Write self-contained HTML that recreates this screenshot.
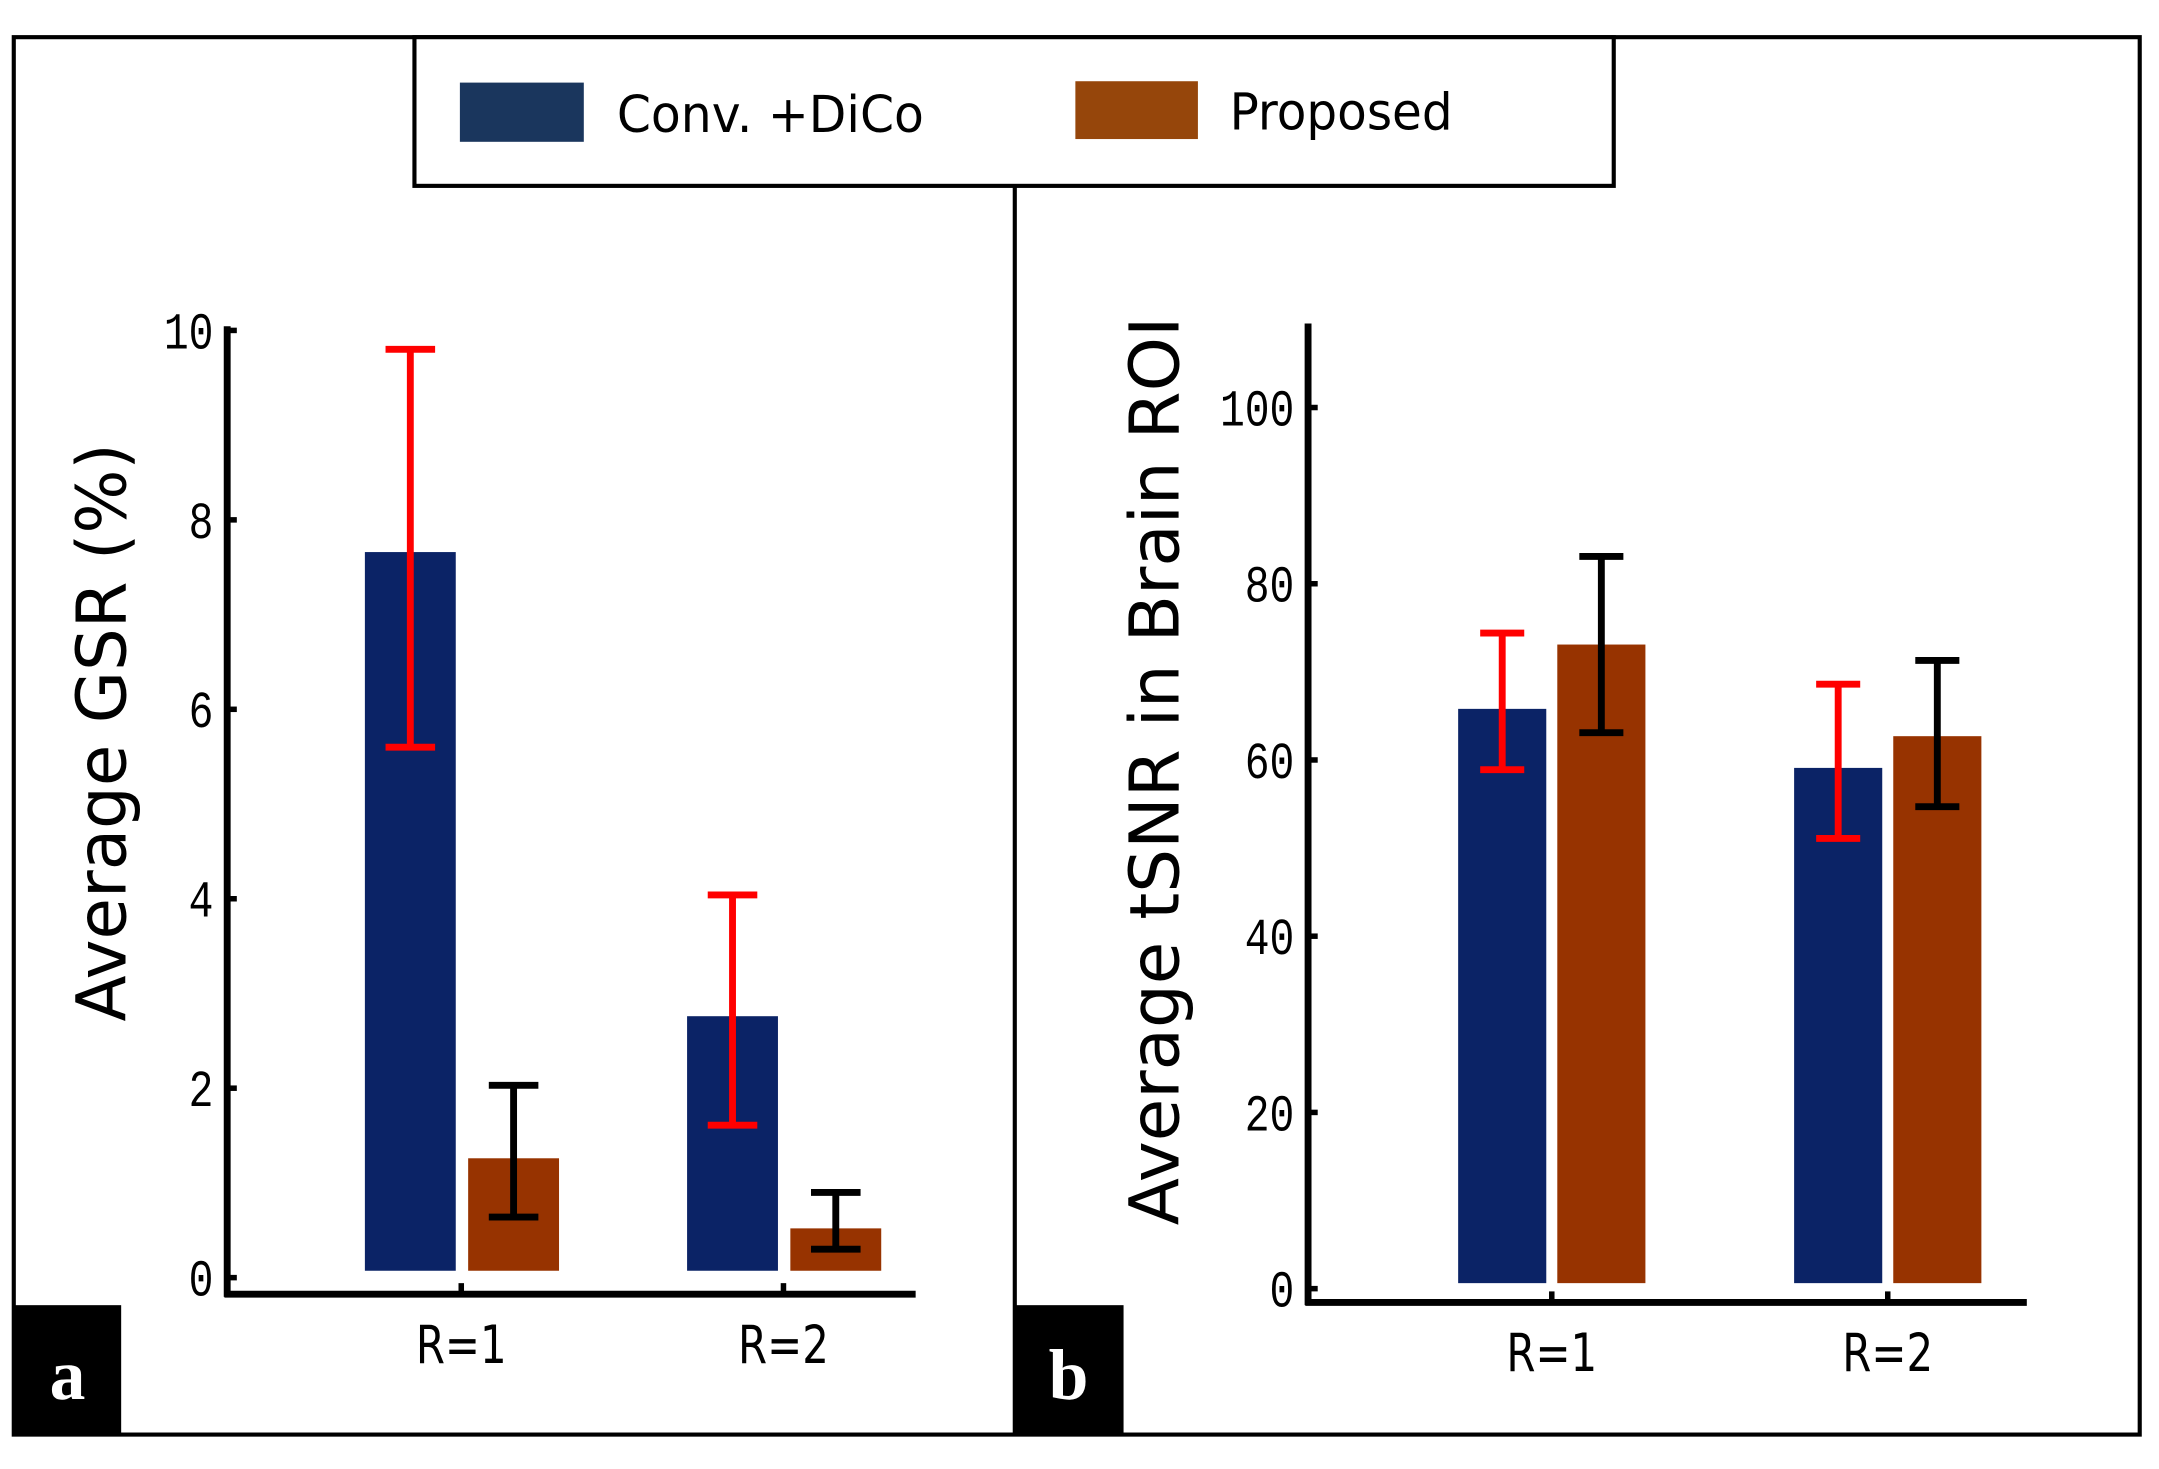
<!DOCTYPE html>
<html><head><meta charset="utf-8"><style>
html,body{margin:0;padding:0;background:#fff;}
svg{display:block;}
.tick{font-family:"Liberation Mono",monospace;font-size:38px;fill:#000;}
.lab{font-family:"DejaVu Sans","Liberation Sans",sans-serif;fill:#000;}
</style></head><body>
<svg id="fig" width="2159" height="1469" viewBox="0 0 1568 1067" preserveAspectRatio="none" xmlns="http://www.w3.org/2000/svg">
<rect x="10" y="27" width="1544" height="1015" fill="none" stroke="#000" stroke-width="3"/>
<line x1="737" y1="135" x2="737" y2="1042" stroke="#000" stroke-width="3"/>
<g>
<rect x="301" y="27" width="871" height="108" fill="#fff" stroke="#000" stroke-width="3"/>
<rect x="334" y="60" width="90" height="43" fill="#1a365d"/>
<text x="448" y="96" class="lab" font-size="37" textLength="223" lengthAdjust="spacingAndGlyphs">Conv. +DiCo</text>
<rect x="781" y="59" width="89" height="42" fill="#96460b"/>
<text x="893" y="94" class="lab" font-size="37" textLength="162" lengthAdjust="spacingAndGlyphs">Proposed</text>
</g>
<rect x="10" y="948" width="78" height="94" fill="#000"/>
<text x="49" y="1016" text-anchor="middle" font-family="Liberation Serif,serif" font-weight="bold" font-size="52" fill="#fff">a</text>
<rect x="737" y="948" width="79" height="94" fill="#000"/>
<text x="776" y="1016" text-anchor="middle" font-family="Liberation Serif,serif" font-weight="bold" font-size="52" fill="#fff">b</text>
<text transform="translate(91,532) rotate(-90)" text-anchor="middle" class="lab" font-size="50" textLength="420" lengthAdjust="spacingAndGlyphs">Average GSR (%)</text>
<text transform="translate(856,560) rotate(-90)" text-anchor="middle" class="lab" font-size="50" textLength="660" lengthAdjust="spacingAndGlyphs">Average tSNR in Brain ROI</text>
<g id="gA"></g><g id="gB"></g>
</svg>
<script>
const categories = ["R=1", "R=2"];
const gsrConv = [7.66, 2.76];
const gsrConvLo = [5.6, 1.61];
const gsrConvHi = [9.8, 4.04];
const gsrProp = [1.26, 0.52];
const gsrPropLo = [0.64, 0.3];
const gsrPropHi = [2.03, 0.9];
const gsrTicks = [0, 2, 4, 6, 8, 10];
const snrConv = [65.8, 59.1];
const snrConvLo = [58.9, 51.1];
const snrConvHi = [74.4, 68.6];
const snrProp = [73.1, 62.7];
const snrPropLo = [63.1, 54.7];
const snrPropHi = [83.1, 71.3];
const snrTicks = [0, 20, 40, 60, 80, 100];

const NS = "http://www.w3.org/2000/svg";
function mk(parent, tag, attrs){const e=document.createElementNS(NS,tag);for(const k in attrs)e.setAttribute(k,attrs[k]);parent.appendChild(e);return e;}

function drawPanel(g, cfg){
  const y = v => cfg.y0 - v*cfg.ppu;
  let e;
  e = mk(g,"line",{x1:cfg.ax,y1:cfg.axTop,x2:cfg.ax,y2:cfg.xAxisY+2,stroke:"#000","stroke-width":5});
  
  
  e = mk(g,"line",{x1:cfg.ax-2,y1:cfg.xAxisY,x2:cfg.axRight,y2:cfg.xAxisY,stroke:"#000","stroke-width":5});
  
  
  cfg.ticks.forEach(t=>{
    e = mk(g,"line",{x1:cfg.ax,y1:y(t),x2:cfg.ax+7,y2:y(t),stroke:"#000","stroke-width":4});
    
    
    e = mk(g,"text",{x:cfg.ax-10,y:y(t)+13,"text-anchor":"end",class:"tick",textLength:String(t).length*18,lengthAdjust:"spacingAndGlyphs"});
    e.textContent = t;
    
    
  });
  categories.forEach((c,i)=>{
    const cx = cfg.cx[i];
    e = mk(g,"line",{x1:cx,y1:cfg.xAxisY,x2:cx,y2:cfg.xAxisY-8,stroke:"#000","stroke-width":4});
    
    
    e = mk(g,"text",{x:cx,y:cfg.xAxisY+50,"text-anchor":"middle",class:"lab","font-size":38,textLength:66,lengthAdjust:"spacingAndGlyphs"});
    e.textContent = c;
    
    
    const series = [
      {v:cfg.conv[i],lo:cfg.convLo[i],hi:cfg.convHi[i],x:cx-cfg.gapL-cfg.bw,col:"#0b2366",ec:"#ff0000",n:"conv"},
      {v:cfg.prop[i],lo:cfg.propLo[i],hi:cfg.propHi[i],x:cx+cfg.gapR,col:"#973300",ec:"#000",n:"proposed"}];
    series.forEach(s=>{
      e = mk(g,"rect",{x:s.x,y:y(s.v),width:cfg.bw,height:cfg.barBase-y(s.v),fill:s.col});
      
      
      const ex = s.x+cfg.bw/2;
      const eg = mk(g,"g",{stroke:s.ec,"stroke-width":5});
      
      
      mk(eg,"line",{x1:ex,y1:y(s.hi),x2:ex,y2:y(s.lo)});
      mk(eg,"line",{x1:ex-cfg.cap,y1:y(s.hi),x2:ex+cfg.cap,y2:y(s.hi)});
      mk(eg,"line",{x1:ex-cfg.cap,y1:y(s.lo),x2:ex+cfg.cap,y2:y(s.lo)});
    });
  });
}
drawPanel(document.getElementById("gA"),{p:"a",ax:165,axTop:237,axRight:665,xAxisY:940,y0:928,ppu:68.8,barBase:923,
  ticks:gsrTicks,cx:[335,569],bw:66,gapL:4,gapR:5,cap:18,
  conv:gsrConv,convLo:gsrConvLo,convHi:gsrConvHi,prop:gsrProp,propLo:gsrPropLo,propHi:gsrPropHi});
drawPanel(document.getElementById("gB"),{p:"b",ax:950,axTop:235,axRight:1472,xAxisY:946,y0:936,ppu:6.4,barBase:932,
  ticks:snrTicks,cx:[1127,1371],bw:64,gapL:4,gapR:4,cap:16,
  conv:snrConv,convLo:snrConvLo,convHi:snrConvHi,prop:snrProp,propLo:snrPropLo,propHi:snrPropHi});
</script>
</body></html>
